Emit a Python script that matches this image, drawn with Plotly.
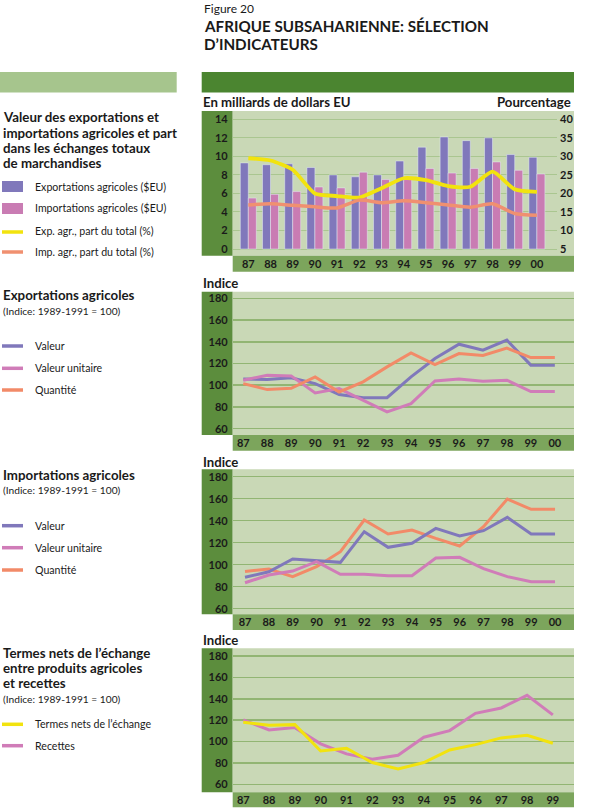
import plotly.graph_objects as go

# ---------------- data ----------------
years_a = ["87", "88", "89", "90", "91", "92", "93", "94", "95", "96", "97", "98", "99", "00"]
years_b = ["87", "88", "89", "90", "91", "92", "93", "94", "95", "96", "97", "98", "99"]

# Chart 1: billions USD (left axis) and share of total (%) (right axis)
exp_value = [9.3, 9.1, 9.2, 8.8, 8.0, 7.8, 8.0, 9.5, 11.0, 12.1, 11.7, 12.0, 10.2, 9.9]
imp_value = [5.5, 5.9, 6.2, 6.7, 6.6, 8.3, 7.5, 7.5, 8.7, 8.2, 8.7, 9.4, 8.5, 8.1]
exp_share = [29.5, 28.9, 26.4, 20.0, 19.3, 18.9, 21.4, 24.1, 23.6, 22.0, 21.8, 25.9, 21.1, 20.4]
imp_share = [16.9, 17.2, 16.8, 16.4, 16.1, 18.2, 17.5, 18.0, 17.5, 16.9, 16.3, 17.2, 14.6, 14.1]

# Chart 2: agricultural exports index (1989-1991 = 100)
ex_valeur = [105.8, 105.2, 106.8, 101.5, 91.4, 88.6, 88.6, 107.7, 124.6, 137.8, 132.3, 141.5, 118.5, 118.5]
ex_unitaire = [104.6, 109.2, 108.6, 92.9, 96.9, 86.2, 75.4, 83.1, 104.0, 105.8, 103.7, 104.6, 94.2, 94.2]
ex_quantite = [101.5, 96.0, 97.2, 107.7, 93.8, 103.1, 116.9, 129.8, 119.1, 129.2, 127.4, 134.2, 125.5, 125.5]

# Chart 3: agricultural imports index (1989-1991 = 100)
im_valeur = [88.5, 93.6, 105.2, 103.6, 102.1, 130.0, 115.8, 119.4, 133.0, 126.1, 130.9, 143.0, 127.9, 127.9]
im_unitaire = [83.6, 90.6, 94.2, 102.7, 91.2, 91.2, 90.0, 90.0, 106.1, 106.7, 96.4, 89.1, 84.5, 84.5]
im_quantite = [93.9, 96.1, 89.1, 98.2, 111.8, 140.6, 127.9, 131.5, 123.9, 117.0, 134.5, 159.7, 150.3, 150.3]

# Chart 4: net terms of trade and receipts (1989-1991 = 100)
tt_termes = [118.0, 115.2, 115.8, 91.2, 93.7, 80.3, 74.4, 80.3, 92.1, 97.1, 103.4, 105.9, 98.4]
tt_recettes = [120.2, 110.8, 113.0, 97.8, 88.4, 83.4, 87.2, 104.0, 110.2, 126.4, 131.4, 143.2, 124.9]

index_ticks = [60, 80, 100, 120, 140, 160, 180]

# ---------------- styling ----------------
W, H = 600, 808
FONT = "Lato"
DARK = "#1a1a1a"
C_HEADER = "#4b8530"
C_LIGHTBAR = "#a6c58d"
C_STRIP = "#5c8d3d"
C_BAND = "#7ca55c"
C_BG = "#c9d8b6"
C_GRID = "#92b573"
C_PURPLE = "#8078bb"
C_PINK = "#c97cb3"
C_PINK_L = "#d07cb8"
C_YELLOW = "#f2e30e"
C_ORANGE = "#f09070"
C_QTY = "#f28a68"


def fx(px):
    return px / W


def fy(py):
    return 1 - py / H


fig = go.Figure()

# ---- Chart 1 traces ----
fig.add_trace(go.Bar(x=years_a, y=exp_value, marker_color=C_PURPLE, xaxis="x", yaxis="y",
                     name="Exportations agricoles ($EU)"))
fig.add_trace(go.Bar(x=years_a, y=imp_value, marker_color=C_PINK, xaxis="x", yaxis="y",
                     name="Importations agricoles ($EU)"))
fig.add_trace(go.Scatter(x=years_a, y=exp_share, mode="lines", xaxis="x", yaxis="y2",
                         line=dict(color=C_YELLOW, width=3.8, shape="spline", smoothing=0.6),
                         name="Exp. agr., part du total (%)"))
fig.add_trace(go.Scatter(x=years_a, y=imp_share, mode="lines", xaxis="x", yaxis="y2",
                         line=dict(color=C_ORANGE, width=3.5, shape="spline", smoothing=0.6),
                         name="Imp. agr., part du total (%)"))

# ---- Chart 2 traces ----
for ys, col, nm in [(ex_valeur, C_PURPLE, "Valeur"), (ex_unitaire, C_PINK_L, "Valeur unitaire"),
                    (ex_quantite, C_QTY, "Quantité")]:
    fig.add_trace(go.Scatter(x=years_a, y=ys, mode="lines", xaxis="x2", yaxis="y3",
                             line=dict(color=col, width=3), name=nm))

# ---- Chart 3 traces ----
for ys, col, nm in [(im_quantite, C_QTY, "Quantité"), (im_valeur, C_PURPLE, "Valeur"),
                    (im_unitaire, C_PINK_L, "Valeur unitaire")]:
    fig.add_trace(go.Scatter(x=years_a, y=ys, mode="lines", xaxis="x3", yaxis="y4",
                             line=dict(color=col, width=3), name=nm))

# ---- Chart 4 traces ----
fig.add_trace(go.Scatter(x=years_b, y=tt_recettes, mode="lines", xaxis="x4", yaxis="y5",
                         line=dict(color=C_PINK_L, width=3), name="Recettes"))
fig.add_trace(go.Scatter(x=years_b, y=tt_termes, mode="lines", xaxis="x4", yaxis="y5",
                         line=dict(color=C_YELLOW, width=3), name="Termes nets de l'échange"))

tickfont = dict(family=FONT, size=11, color=DARK, weight="bold")

panels = [
    dict(top=111, bottom=255.7, band=271.7),
    dict(top=291.7, bottom=435, band=450.7),
    dict(top=469.3, bottom=614.3, band=630),
    dict(top=648.3, bottom=792.3, band=807.3),
]
X_STRIP0, X_PLOT0, X_RIGHT = 201.7, 232.7, 574


def xaxis(dom_right, rng, anchor):
    return dict(domain=[fx(X_PLOT0), fx(dom_right)], range=rng, anchor=anchor,
                showgrid=False, zeroline=False, showline=False, ticks="",
                tickfont=tickfont, fixedrange=True, type="category")


def yaxis_idx(p, rng, anchor):
    return dict(domain=[fy(p["bottom"]), fy(p["top"])], range=rng, anchor=anchor,
                tickvals=index_ticks, showgrid=True, gridcolor=C_GRID, gridwidth=1.5,
                zeroline=False, showline=False, ticks="", tickfont=tickfont,
                ticklabelstandoff=4)


p1, p2, p3, p4 = panels
fig.update_layout(
    width=W, height=H,
    margin=dict(l=0, r=0, t=0, b=0),
    paper_bgcolor="white",
    plot_bgcolor="rgba(0,0,0,0)",
    showlegend=False,
    barmode="group",
    bargap=0.28,
    bargroupgap=0,
    hovermode=False,
    font=dict(family=FONT, color=DARK),
    xaxis=xaxis(557, [-0.703, 13.905], "y"),
    yaxis=dict(domain=[fy(p1["bottom"]), fy(p1["top"])], range=[-0.72, 14.9], anchor="x",
               dtick=2, tick0=0, showgrid=True, gridcolor="#aac690", gridwidth=1,
               zeroline=False, showline=False, ticks="", tickfont=tickfont, ticklabelstandoff=4),
    yaxis2=dict(overlaying="y", side="right", anchor="x", range=[3.2, 42.25], tick0=5, dtick=5,
                showgrid=False, zeroline=False, showline=False, ticks="", tickfont=tickfont,
                ticklabelstandoff=2),
    xaxis2=xaxis(X_RIGHT, [-0.44, 13.8], "y3"),
    yaxis3=yaxis_idx(p2, [54.2, 186.1], "x2"),
    xaxis3=xaxis(X_RIGHT, [-0.516, 13.795], "y4"),
    yaxis4=yaxis_idx(p3, [54.9, 186.7], "x3"),
    xaxis4=xaxis(X_RIGHT, [-0.41, 12.82], "y5"),
    yaxis5=yaxis_idx(p4, [52.5, 187.2], "x4"),
)

shapes = []


def rect(x0, y0, x1, y1, color):
    shapes.append(dict(type="rect", xref="paper", yref="paper", x0=fx(x0), x1=fx(x1),
                       y0=fy(y1), y1=fy(y0), fillcolor=color, line=dict(width=0), layer="below"))


rect(0, 72, 176.7, 92.5, C_LIGHTBAR)
rect(201.7, 72, X_RIGHT, 92.5, C_HEADER)
for p in panels:
    rect(X_STRIP0, p["top"], X_PLOT0, p["bottom"], C_STRIP)
    rect(X_PLOT0, p["top"], X_RIGHT, p["bottom"], C_BG)
    rect(X_PLOT0, p["bottom"], X_RIGHT, p["band"], C_BAND)

annotations = []


def text(x, y, s, size=11, bold=False, anchor="left", color=DARK):
    annotations.append(dict(xref="paper", yref="paper", x=fx(x), y=fy(y), text=s, showarrow=False,
                            xanchor=anchor, yanchor="middle",
                            font=dict(family=FONT, size=size, color=color,
                                      weight="bold" if bold else "normal")))


text(202, 8, "Figure 20", size=12)
text(202, 26, "AFRIQUE SUBSAHARIENNE: SÉLECTION", size=15.2, bold=True)
text(202, 44, "D’INDICATEURS", size=15.2, bold=True)

text(201, 102, "En milliards de dollars EU", size=13.2, bold=True)
text(573, 102, "Pourcentage", size=13.2, bold=True, anchor="right")
text(201, 282.5, "Indice", size=13.2, bold=True)
text(201, 461.5, "Indice", size=13.2, bold=True)
text(201, 639.5, "Indice", size=13.2, bold=True)

for i, s in enumerate(["Valeur des exportations et", "importations agricoles et part",
                       "dans les échanges totaux", "de marchandises"]):
    text(1, 117.5 + 15.2 * i, s, size=13.3, bold=True)


def swatch_box(y, color):
    shapes.append(dict(type="rect", xref="paper", yref="paper", x0=fx(2), x1=fx(23),
                       y0=fy(y + 5.5), y1=fy(y - 5.5), fillcolor=color, line=dict(width=0)))


def swatch_line(y, color):
    shapes.append(dict(type="line", xref="paper", yref="paper", x0=fx(2), x1=fx(23),
                       y0=fy(y), y1=fy(y), line=dict(color=color, width=3.5)))


swatch_box(186.5, C_PURPLE)
text(33, 186.5, "Exportations agricoles ($EU)", size=10.6)
swatch_box(208.5, C_PINK)
text(33, 208.5, "Importations agricoles ($EU)", size=10.6)
swatch_line(232, C_YELLOW)
text(33, 231, "Exp. agr., part du total (%)", size=10.6)
swatch_line(252, C_ORANGE)
text(33, 251.5, "Imp. agr., part du total (%)", size=10.6)

text(1, 295, "Exportations agricoles", size=13.3, bold=True)
text(1, 310.5, "(Indice: 1989-1991 = 100)", size=10.2)
for y, col, s in [(346, C_PURPLE, "Valeur"), (368.3, C_PINK_L, "Valeur unitaire"),
                  (390, C_QTY, "Quantité")]:
    swatch_line(y, col)
    text(33, y, s, size=10.6)

text(1, 475, "Importations agricoles", size=13.3, bold=True)
text(1, 490, "(Indice: 1989-1991 = 100)", size=10.2)
for y, col, s in [(525.7, C_PURPLE, "Valeur"), (547.7, C_PINK_L, "Valeur unitaire"),
                  (570, C_QTY, "Quantité")]:
    swatch_line(y, col)
    text(33, y, s, size=10.6)

for i, s in enumerate(["Termes nets de l’échange", "entre produits agricoles", "et recettes"]):
    text(1, 653.3 + 15 * i, s, size=13.3, bold=True)
text(1, 698.7, "(Indice: 1989-1991 = 100)", size=10.2)
swatch_line(724.3, C_YELLOW)
text(33, 724.3, "Termes nets de l’échange", size=10.6)
swatch_line(745.7, C_PINK_L)
text(33, 745.7, "Recettes", size=10.6)

fig.update_layout(shapes=shapes, annotations=annotations)

fig.write_html("out.html",
               config={"displayModeBar": False, "staticPlot": True},
               post_script="document.body.style.margin='0';document.body.style.overflow='hidden';")
